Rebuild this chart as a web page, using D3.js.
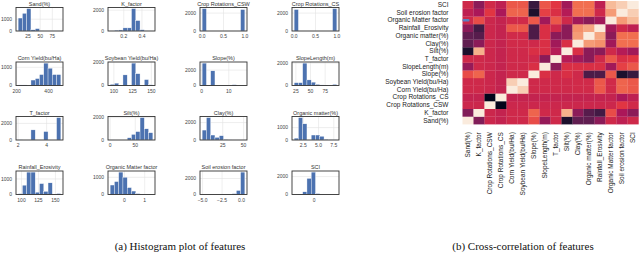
<!DOCTYPE html>
<html>
<head>
<meta charset="utf-8">
<script src="https://cdn.jsdelivr.net/npm/d3@7"></script>
<style>
  body { margin: 0; background: #fff; }
  svg { display: block; }
</style>
</head>
<body>
<svg id="chart" width="640" height="253"></svg>
<script>
// ---- histogram data ----
const histNames = [
  "Sand(%)", "K_factor", "Crop Rotations_CSW", "Crop Rotations_CS",
  "Corn Yield(bu/Ha)", "Soybean Yield(bu/Ha)", "Slope(%)", "SlopeLength(m)",
  "T_factor", "Silt(%)", "Clay(%)", "Organic matter(%)",
  "Rainfall_Erosivity", "Organic Matter factor", "Soil erosion factor", "SCI"
];
// [min, max] of each feature (10 equal bins between them)
const histRanges = [
  [4.4, 92.6], [0.05, 0.52], [0, 1], [0, 1],
  [210, 477], [95, 152], [0.2, 15.9], [22, 95],
  [2, 5], [0, 85], [0.4, 51.5], [1, 8],
  [95, 158], [-0.7, 1.4], [-5.06, 0.43], [-0.7, 0.8]
];
const histCounts = [
  [1100, 1500, 1900, 100, 200, 10, 5, 5, 5, 5],
  [5, 80, 100, 300, 300, 2150, 1000, 120, 10, 5],
  [2500, 0, 0, 0, 0, 0, 0, 0, 0, 2400],
  [2400, 0, 0, 0, 0, 0, 0, 0, 0, 2500],
  [30, 30, 0, 300, 380, 600, 1230, 950, 600, 600],
  [100, 200, 0, 900, 0, 1900, 1000, 0, 500, 60],
  [2900, 50, 1900, 0, 0, 0, 0, 100, 0, 10],
  [250, 250, 2000, 500, 300, 100, 50, 30, 10, 100],
  [15, 0, 0, 1220, 0, 0, 1020, 0, 0, 2700],
  [5, 0, 0, 0, 200, 500, 750, 2000, 1000, 650],
  [1140, 2570, 570, 300, 490, 50, 10, 5, 5, 5],
  [150, 1800, 1300, 0, 400, 400, 300, 50, 20, 10],
  [50, 600, 1440, 1440, 150, 700, 200, 750, 0, 60],
  [550, 750, 1300, 1000, 400, 200, 50, 10, 5, 5],
  [1, 0, 0, 0, 0, 0, 0, 100, 500, 2800],
  [10, 50, 300, 1800, 2500, 100, 20, 5, 5, 5]
];
const histXTicks = [
  [25, 50, 75], [0.2, 0.4], [0, 0.5, 1], [0, 0.5, 1],
  [200, 400], [100, 125, 150], [0, 10], [25, 50, 75],
  [2, 4], [0, 50], [25, 50], [2.5, 5, 7.5],
  [100, 125, 150], [0, 1], [-5, -2.5, 0], [0]
];
const histXTickText = [
  ["25", "50", "75"], ["0.2", "0.4"], ["0.0", "0.5", "1.0"], ["0.0", "0.5", "1.0"],
  ["200", "400"], ["100", "125", "150"], ["0", "10"], ["25", "50", "75"],
  ["2", "4"], ["0", "50"], ["25", "50"], ["2.5", "5.0", "7.5"],
  ["100", "125", "150"], ["0", "1"], ["\u22125.0", "\u22122.5", "0.0"], ["0"]
];
const histYTicks = [
  [0, 1000], [0, 2000], [0, 2000], [0, 2000],
  [0, 1000], [0, 2000], [0, 2000], [0, 2000],
  [0, 2000], [0, 2000], [0, 2000], [0, 1000],
  [0, 1000], [0, 1000], [0, 2000], [0, 2000]
];

// ---- correlation data ----
const corrLabels = [
  "Sand(%)", "K_factor", "Crop Rotations_CSW", "Crop Rotations_CS",
  "Corn Yield(bu/Ha)", "Soybean Yield(bu/Ha)", "Slope(%)", "SlopeLength(m)",
  "T_factor", "Silt(%)", "Clay(%)", "Organic matter(%)",
  "Rainfall_Erosivity", "Organic Matter factor", "Soil erosion factor", "SCI"
];
// rows and columns in corrLabels order (symmetric)
const corrValues = [
  [ 1.00, -0.35,  0.02, -0.02,  0.04,  0.04,  0.25, -0.25,  0.04, -0.85, -0.50, -0.50, -0.30,  0.04, -0.05,  0.04],
  [-0.35,  1.00,  0.02, -0.02,  0.04,  0.04,  0.35,  0.04,  0.04,  0.70, -0.30, -0.55, -0.65,  0.25, -0.15, -0.30],
  [ 0.02,  0.02,  1.00, -1.00,  0.02,  0.02,  0.02,  0.02,  0.02,  0.02,  0.02,  0.02,  0.02,  0.02,  0.15,  0.05],
  [-0.02, -0.02, -1.00,  1.00, -0.02, -0.02, -0.02, -0.02, -0.02, -0.02, -0.02, -0.02, -0.02, -0.02, -0.15, -0.05],
  [ 0.04,  0.04,  0.02, -0.02,  1.00,  0.85,  0.04,  0.04,  0.04,  0.04,  0.05,  0.05,  0.30,  0.05,  0.35,  0.30],
  [ 0.04,  0.04,  0.02, -0.02,  0.85,  1.00,  0.04,  0.04,  0.04,  0.04,  0.05,  0.05,  0.30,  0.05,  0.35,  0.30],
  [ 0.25,  0.35,  0.02, -0.02,  0.04,  0.04,  1.00,  0.10,  0.04,  0.10,  0.04, -0.60, -0.60,  0.30, -0.85, -0.70],
  [-0.25,  0.04,  0.02, -0.02,  0.04,  0.04,  0.10,  1.00, -0.30,  0.10,  0.10,  0.10,  0.10, -0.20,  0.20,  0.30],
  [ 0.04,  0.04,  0.02, -0.02,  0.04,  0.04,  0.04, -0.30,  1.00, -0.10, -0.20, -0.30,  0.04,  0.30,  0.10,  0.15],
  [-0.85,  0.70,  0.02, -0.02,  0.04,  0.04,  0.10,  0.10, -0.10,  1.00,  0.10, -0.30, -0.30,  0.04, -0.10, -0.20],
  [-0.50, -0.30,  0.02, -0.02,  0.05,  0.05,  0.04,  0.10, -0.20,  0.10,  1.00,  0.60,  0.55, -0.20,  0.40,  0.40],
  [-0.50, -0.55,  0.02, -0.02,  0.05,  0.05, -0.60,  0.10, -0.30, -0.30,  0.60,  1.00,  0.65, -0.30,  0.40,  0.40],
  [-0.30, -0.65,  0.02, -0.02,  0.30,  0.30, -0.60,  0.10,  0.04, -0.30,  0.55,  0.65,  1.00, -0.20,  0.04, -0.05],
  [ 0.04,  0.25,  0.02, -0.02,  0.05,  0.05,  0.30, -0.20,  0.30,  0.04, -0.20, -0.30, -0.20,  1.00,  0.60,  0.75],
  [-0.05, -0.15,  0.15, -0.15,  0.35,  0.35, -0.85,  0.20,  0.10, -0.10,  0.40,  0.40,  0.04,  0.60,  1.00,  0.85],
  [ 0.04, -0.30,  0.05, -0.05,  0.30,  0.30, -0.70,  0.30,  0.15, -0.20,  0.40,  0.40, -0.05,  0.75,  0.85,  1.00]
];

const captions = ["(a) Histogram plot of features", "(b) Cross-correlation of features"];

// seaborn "rocket" colour stops
const rocketStops = ["#03051a", "#35193e", "#701f57", "#ad1759", "#e13342", "#f37651", "#f6b48f", "#faebdd"];

const svg = d3.select("#chart");
const sansFont = "'Liberation Sans', Arial, sans-serif";

// ---------- histograms ----------
const panelLefts = [16, 108, 200, 292];
const panelTops = [7.5, 62, 116.5, 171];
const panelW = 47;
const panelH = 23.5;

histNames.forEach((name, i) => {
  const col = i % 4;
  const row = Math.floor(i / 4);
  const g = svg.append("g")
    .attr("transform", `translate(${panelLefts[col]},${panelTops[row]})`);

  const [lo, hi] = histRanges[i];
  const pad = (hi - lo) * 0.05;
  const x = d3.scaleLinear().domain([lo - pad, hi + pad]).range([0, panelW]);
  const y = d3.scaleLinear().domain([0, d3.max(histCounts[i]) * 1.05]).range([panelH, 0]);
  const binW = (hi - lo) / histCounts[i].length;
  const bins = histCounts[i].map((c, k) => ({ x0: lo + k * binW, x1: lo + (k + 1) * binW, c }));

  // grid
  g.selectAll(".gx").data(histXTicks[i]).join("line")
    .attr("x1", (d) => x(d)).attr("x2", (d) => x(d))
    .attr("y1", 0).attr("y2", panelH)
    .attr("stroke", "#e3e3e3").attr("stroke-width", 0.6);
  g.selectAll(".gy").data(histYTicks[i]).join("line")
    .attr("x1", 0).attr("x2", panelW)
    .attr("y1", (d) => y(d)).attr("y2", (d) => y(d))
    .attr("stroke", "#e3e3e3").attr("stroke-width", 0.6);

  g.selectAll("rect.bar").data(bins).join("rect")
    .attr("class", "bar")
    .attr("x", (d) => x(d.x0))
    .attr("width", (d) => Math.max(0, x(d.x1) - x(d.x0)))
    .attr("y", (d) => y(d.c))
    .attr("height", (d) => panelH - y(d.c))
    .attr("fill", "#4c72b0")
    .attr("stroke", "#fff")
    .attr("stroke-width", 0.35);

  g.append("rect")
    .attr("width", panelW).attr("height", panelH)
    .attr("fill", "none").attr("stroke", "#333").attr("stroke-width", 0.9);

  g.append("text")
    .attr("x", panelW / 2).attr("y", -2)
    .attr("text-anchor", "middle")
    .attr("font-family", sansFont).attr("font-size", 5.5).attr("fill", "#333")
    .text(name);

  g.selectAll(".xt").data(histXTicks[i]).join("text")
    .attr("x", (d) => x(d)).attr("y", panelH + 7)
    .attr("text-anchor", "middle")
    .attr("font-family", sansFont).attr("font-size", 5).attr("fill", "#444")
    .text((d, k) => histXTickText[i][k]);

  g.selectAll(".yt").data(histYTicks[i]).join("text")
    .attr("x", -4).attr("y", (d) => y(d) + 1.8)
    .attr("text-anchor", "end")
    .attr("font-family", sansFont).attr("font-size", 5).attr("fill", "#444")
    .text((d) => d);
});

// ---------- heatmap ----------
const heatLeft = 462.5;
const heatTop = 1;
const cellW = 11;
const cellH = 7.7;
const n = corrLabels.length;
const rowOrder = d3.range(n).reverse(); // SCI on top, Sand at the bottom

const xH = d3.scaleBand().domain(d3.range(n)).range([heatLeft, heatLeft + n * cellW]);
const yH = d3.scaleBand().domain(rowOrder).range([heatTop, heatTop + n * cellH]);
const color = d3.scaleLinear()
  .domain(rocketStops.map((_, k) => -1 + 2 * k / (rocketStops.length - 1)))
  .range(rocketStops)
  .interpolate(d3.interpolateRgb);

const cells = [];
corrValues.forEach((rowVals, r) => rowVals.forEach((v, c) => cells.push({ r, c, v })));

svg.append("g").selectAll("rect").data(cells).join("rect")
  .attr("x", (d) => xH(d.c))
  .attr("y", (d) => yH(d.r))
  .attr("width", xH.bandwidth() + 0.2)
  .attr("height", yH.bandwidth() + 0.2)
  .attr("fill", (d) => color(d.v));

// small blue marker at the left edge
svg.append("rect")
  .attr("x", heatLeft).attr("y", yH(13) + 2.6)
  .attr("width", 7).attr("height", 2.6).attr("rx", 1)
  .attr("fill", "#5a7fc2");

svg.append("g").selectAll("text").data(rowOrder).join("text")
  .attr("x", heatLeft - 14)
  .attr("y", (d) => yH(d) + cellH / 2 + 2.2)
  .attr("text-anchor", "end")
  .attr("font-family", sansFont).attr("font-size", 6.5).attr("fill", "#222")
  .text((d) => corrLabels[d]);

svg.append("g").selectAll("text").data(d3.range(n)).join("text")
  .attr("transform", (d) => `translate(${xH(d) + cellW / 2 + 2.2},${heatTop + n * cellH + 8}) rotate(-90)`)
  .attr("text-anchor", "end")
  .attr("font-family", sansFont).attr("font-size", 6.5).attr("fill", "#222")
  .text((d) => corrLabels[d]);

// ---------- captions ----------
svg.selectAll("text.cap").data(captions).join("text")
  .attr("class", "cap")
  .attr("x", (d, k) => [180, 523][k])
  .attr("y", 250)
  .attr("text-anchor", "middle")
  .attr("font-family", "'Liberation Serif', 'Times New Roman', serif")
  .attr("font-size", 11).attr("fill", "#111")
  .text((d) => d);
</script>
</body>
</html>
